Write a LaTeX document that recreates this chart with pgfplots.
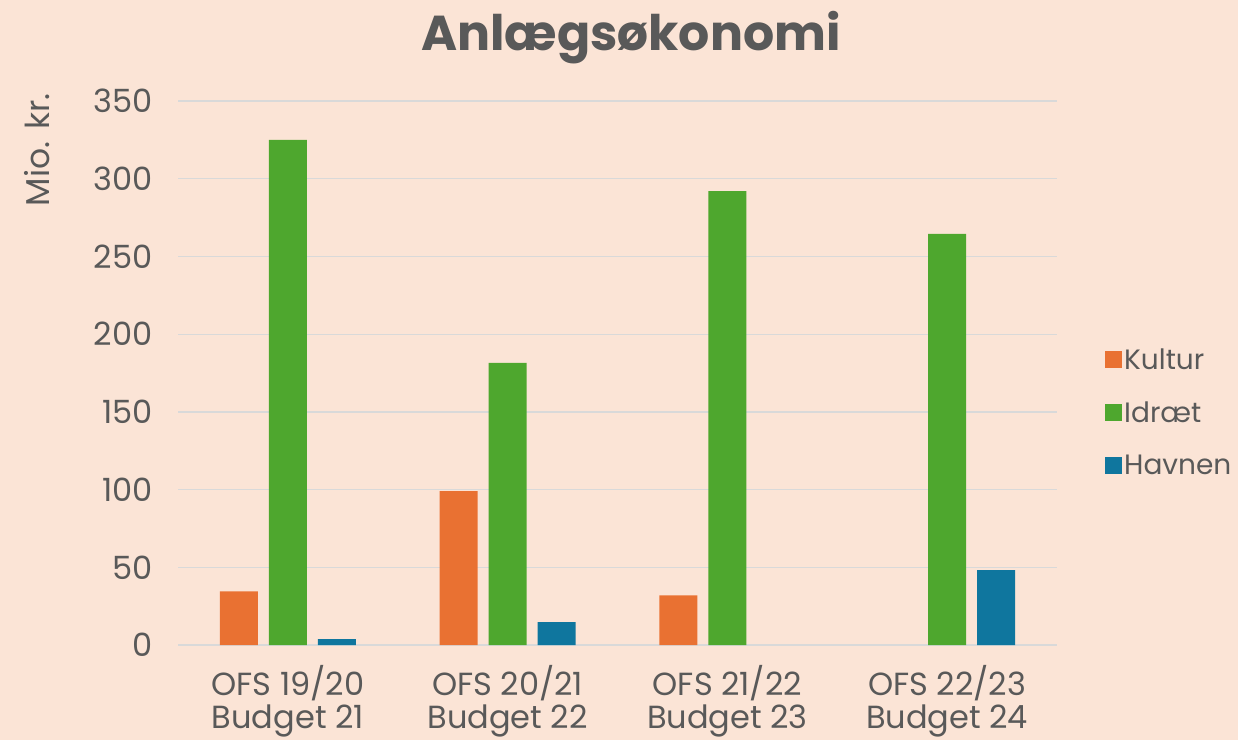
\documentclass[border=0pt]{standalone}
\usepackage{fontspec}
\setmainfont{Poppins}
\usepackage{pgfplots}
\pgfplotsset{compat=1.18}
\definecolor{bg}{RGB}{251,228,214}
\definecolor{txt}{RGB}{89,89,89}
\definecolor{gridc}{RGB}{217,217,217}
\definecolor{kultur}{RGB}{233,113,50}
\definecolor{idraet}{RGB}{78,167,46}
\definecolor{havnen}{RGB}{15,118,158}
\begin{document}
\begin{tikzpicture}
\fill[bg] (0,0) rectangle (1238bp,-740bp);
\path[use as bounding box] (0,0) rectangle (1238bp,-740bp);
\node[text=txt, font=\fontsize{49bp}{56bp}\selectfont\bfseries] at (631bp,-38bp) {Anlægsøkonomi};
\node[text=txt, rotate=90, font=\fontsize{33bp}{38bp}\selectfont] at (37bp,-150bp) {Mio. kr.};
\begin{axis}[
  at={(178bp,-645bp)}, anchor=south west,
  scale only axis, width=879bp, height=544bp,
  xmin=-0.5, xmax=3.5, ymin=0, ymax=350,
  ytick={0,50,...,350},
  xtick={0,1,2,3},
  xticklabels={{OFS 19/20\\Budget 21},{OFS 20/21\\Budget 22},{OFS 21/22\\Budget 23},{OFS 22/23\\Budget 24}},
  xticklabel style={align=center, text=txt, font=\fontsize{32bp}{33bp}\selectfont},
  yticklabel style={text=txt, font=\fontsize{32bp}{34bp}\selectfont},
  /pgf/number format/assume math mode=true,
  major tick length=0pt,
  axis line style={draw=none},
  axis x line*=bottom,
  ymajorgrids, grid style={gridc, line width=1.3bp},
  ybar, bar width=38bp,
  legend style={at={(1102bp-178bp, 645bp-412bp)}, anchor=west, draw=none, fill=none,
    font=\fontsize{28bp}{32bp}\selectfont, text=txt, row sep=27bp,
    /tikz/every even column/.append style={column sep=12bp}},
  legend cell align=left,
  legend image code/.code={\fill[#1] (0bp,-8.5bp) rectangle (17bp,8.5bp);},
  every axis plot/.append style={draw=none},
  yticklabel style={xshift=-22bp},
  xticklabel style={yshift=-17bp},
]
\addplot[fill=kultur, bar shift=-49bp] coordinates {(0,34.5) (1,99) (2,32)};
\addplot[fill=idraet, bar shift=0bp] coordinates {(0,325) (1,181.5) (2,292) (3,264.5)};
\addplot[fill=havnen, bar shift=49bp] coordinates {(0,3.8) (1,14.7) (3,48.2)};
\legend{Kultur, Idræt, Havnen}
\end{axis}
\end{tikzpicture}
\end{document}
